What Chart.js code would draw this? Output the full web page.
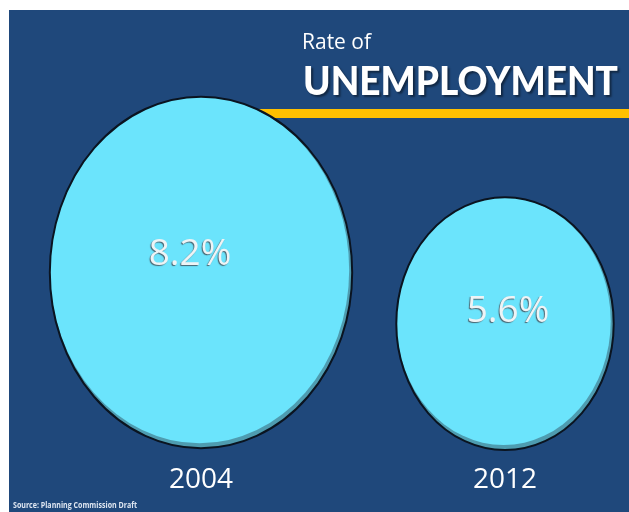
<!DOCTYPE html>
<html>
<head>
<meta charset="utf-8">
<script src="https://cdn.jsdelivr.net/npm/chart.js@4.4.1/dist/chart.umd.min.js"></script>
<style>
  html, body { margin: 0; padding: 0; background: #ffffff; }
  #wrap { position: absolute; left: 0; top: 0; width: 629px; height: 512px; }
  canvas { display: block; }
</style>
</head>
<body>
<div id="wrap"><canvas id="c" width="629" height="512" style="width:629px;height:512px"></canvas></div>
<script>
// ---- data ----
const years = [2004, 2012];
const unemploymentRate = [8.2, 5.6];
const valueLabels = ['8.2%', '5.6%'];
const titleSmall = 'Rate of';
const titleBig = 'UNEMPLOYMENT';
const sourceText = 'Source: Planning Commission Draft';

// ---- style ----
const BLUE = '#1f487b';
const CYAN = '#6be4fc';
const CYAN_SHADE = '#4e9cb0';
const GOLD = '#ffc000';
const ASPECT = 0.86;

const points = years.map((yr, i) => ({ x: i, y: unemploymentRate[i] }));

const decorPlugin = {
  id: 'decor',
  beforeDraw(chart) {
    const ctx = chart.ctx;
    ctx.save();
    ctx.fillStyle = '#ffffff';
    ctx.fillRect(0, 0, chart.width, chart.height);
    ctx.fillStyle = BLUE;
    ctx.fillRect(9, 10, chart.width - 9, chart.height - 10);
    ctx.restore();
  },
  beforeDatasetsDraw(chart) {
    const ctx = chart.ctx;
    ctx.save();
    ctx.fillStyle = GOLD;
    ctx.fillRect(230, 109, chart.width - 230, 9);
    ctx.restore();
  },
  afterDatasetsDraw(chart) {
    const ctx = chart.ctx;
    const meta = chart.getDatasetMeta(0);
    meta.data.forEach((el, i) => {
      const r = el.options.radius;
      const rx = r * ASPECT, ry = r;
      const x = el.x, y = el.y;
      ctx.save();
      ctx.beginPath();
      ctx.ellipse(x, y, rx, ry, 0, 0, Math.PI * 2);
      ctx.fillStyle = CYAN_SHADE;
      ctx.fill();
      ctx.save();
      ctx.clip();
      ctx.beginPath();
      ctx.ellipse(x - 1.5, y - 2.5, rx - 1.5, ry - 2.5, 0, 0, Math.PI * 2);
      ctx.fillStyle = CYAN;
      ctx.fill();
      ctx.restore();
      ctx.beginPath();
      ctx.ellipse(x, y, rx, ry, 0, 0, Math.PI * 2);
      ctx.lineWidth = 2;
      ctx.strokeStyle = '#0a1420';
      ctx.stroke();
      // value label
      ctx.font = '37px "Open Sans"';
      ctx.textAlign = 'center';
      ctx.textBaseline = 'middle';
      ctx.shadowColor = 'rgba(70,85,95,0.9)';
      ctx.shadowOffsetX = -1;
      ctx.shadowOffsetY = 1;
      ctx.shadowBlur = 1;
      ctx.fillStyle = '#eef4f6';
      ctx.fillText(valueLabels[i], x - (i === 0 ? 11 : -3), y - ry * 0.1);
      ctx.restore();
    });
  },
  afterDraw(chart) {
    const ctx = chart.ctx;
    ctx.save();
    ctx.fillStyle = '#ffffff';
    ctx.textAlign = 'left';
    ctx.textBaseline = 'alphabetic';
    ctx.font = '21px "Open Sans"';
    ctx.fillText(titleSmall, 302, 49);
    ctx.shadowColor = 'rgba(0,0,0,0.45)';
    ctx.shadowOffsetX = 2;
    ctx.shadowOffsetY = 2;
    ctx.shadowBlur = 2;
    ctx.font = '900 39px Lato';
    ctx.fillText(titleBig, 303, 95, 315);
    ctx.shadowColor = 'rgba(0,0,0,0)';
    ctx.font = 'bold 9px "Liberation Sans Narrow", "Open Sans"';
    ctx.fillStyle = '#dfe7f2';
    ctx.fillText(sourceText, 13, 508, 124);
    ctx.restore();
  }
};

new Chart(document.getElementById('c'), {
  type: 'bubble',
  data: {
    datasets: [{
      data: points,
      backgroundColor: 'rgba(0,0,0,0)',
      borderColor: 'rgba(0,0,0,0)',
      borderWidth: 0,
      hoverRadius: 0,
      clip: false,
      radius: (c) => 20 + 19 * c.raw.y
    }]
  },
  options: {
    responsive: false,
    animation: false,
    devicePixelRatio: 1,
    events: [],
    layout: { autoPadding: false, padding: { left: 20, right: 19, top: 15, bottom: 9 } },
    plugins: { legend: { display: false }, tooltip: { enabled: false } },
    scales: {
      x: {
        type: 'linear',
        min: -0.5954,
        max: 1.3454,
        grid: { display: false, drawTicks: false },
        border: { display: false },
        afterBuildTicks: (scale) => { scale.ticks = years.map((_, i) => ({ value: i })); },
        ticks: {
          color: '#ffffff',
          font: { family: 'Open Sans', size: 28 },
          padding: 6,
          autoSkip: false,
          maxRotation: 0,
          callback: (v) => {
            const i = Math.round(v);
            return years[i] !== undefined ? String(years[i]) : '';
          }
        }
      },
      y: {
        type: 'linear',
        display: false,
        min: -1.19,
        max: 21.27
      }
    }
  },
  plugins: [decorPlugin]
});
</script>
</body>
</html>
